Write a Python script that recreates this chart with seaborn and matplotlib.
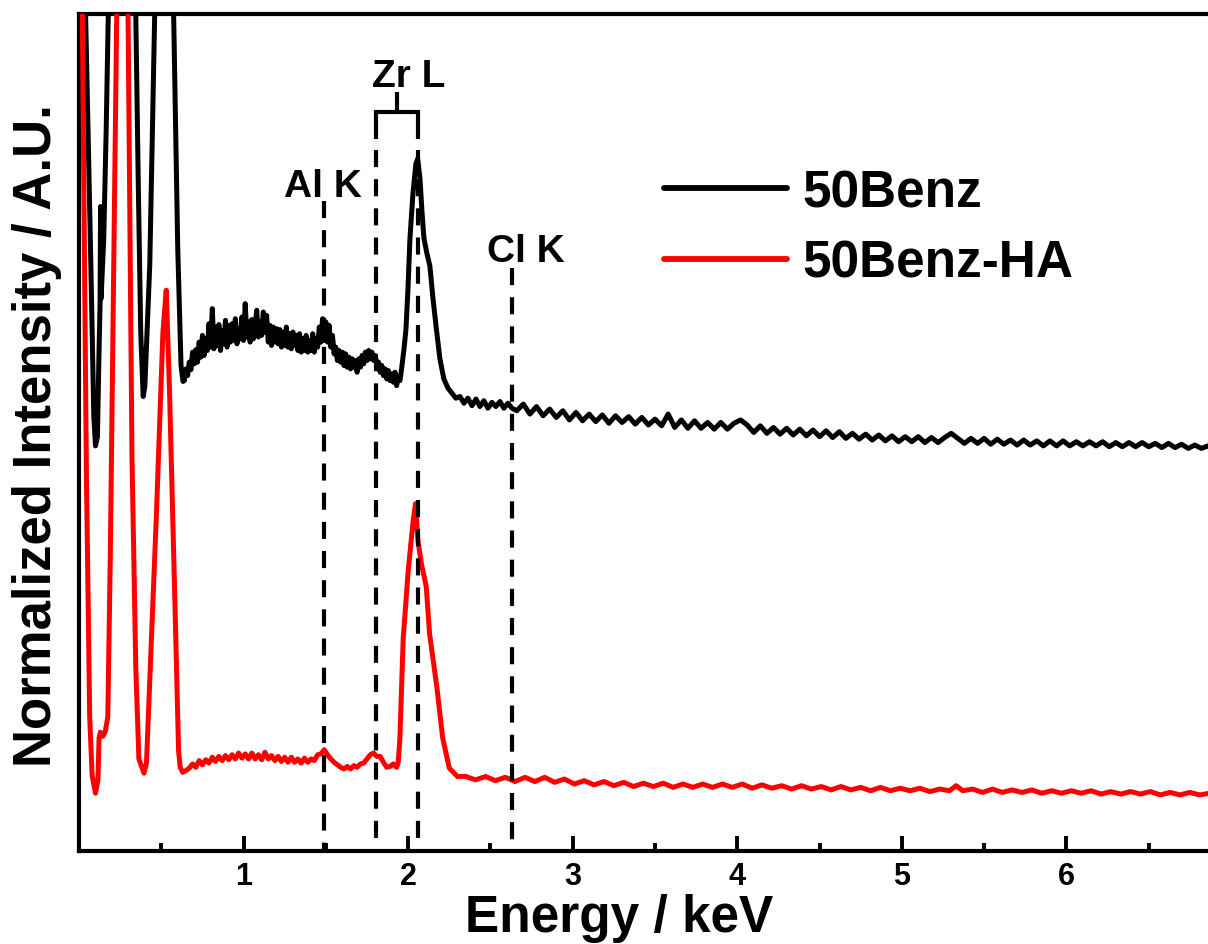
import matplotlib
matplotlib.use("Agg")
import matplotlib.pyplot as plt
import pandas as pd
import seaborn as sns

# ---------------------------------------------------------------------------
# EDS spectra, (energy keV, normalized intensity) pairs
# ---------------------------------------------------------------------------
black_low = [
    (0.000, 200), (0.040, 100), (0.070, 72), (0.090, 52), (0.100, 48.4),
    (0.112, 49.5), (0.122, 60), (0.128, 65.2), (0.131, 77), (0.134, 66),
    (0.150, 73), (0.165, 86), (0.178, 100), (0.200, 140), (0.270, 400),
    (0.330, 130), (0.345, 100), (0.360, 80), (0.375, 62), (0.390, 54.3),
    (0.400, 55.5), (0.430, 70), (0.460, 100), (0.480, 140), (0.525, 250),
    (0.560, 130), (0.575, 100), (0.600, 72), (0.620, 58), (0.632, 56.1),
]
black_mid = [
    (0.64, 56.2), (0.65, 57.6), (0.66, 56.8), (0.67, 58.4), (0.68, 57.5),
    (0.69, 59.6), (0.70, 58.2), (0.71, 59.9), (0.72, 58.4), (0.73, 60.8),
    (0.74, 59.0), (0.75, 61.6), (0.76, 59.2), (0.77, 61.2), (0.78, 59.8),
    (0.79, 63.0), (0.80, 60.2), (0.81, 64.8), (0.82, 60.0), (0.83, 62.6),
    (0.84, 60.4), (0.85, 62.9), (0.86, 59.8), (0.87, 62.2), (0.88, 60.6),
    (0.89, 63.4), (0.90, 60.2), (0.91, 62.8), (0.92, 60.8), (0.93, 63.0),
    (0.94, 61.0), (0.95, 63.6), (0.96, 60.6), (0.97, 62.4), (0.98, 61.2),
    (0.99, 63.8), (1.00, 61.0), (1.01, 65.4), (1.02, 61.4), (1.03, 63.2),
    (1.04, 60.8), (1.05, 63.5), (1.06, 61.2), (1.07, 62.8), (1.08, 64.6),
    (1.09, 61.4), (1.10, 63.2), (1.11, 61.6), (1.12, 64.4), (1.13, 62.0),
    (1.14, 64.0), (1.15, 60.8), (1.16, 62.8), (1.17, 60.4), (1.18, 62.6),
    (1.19, 60.8), (1.20, 62.4), (1.21, 60.6), (1.22, 62.3), (1.23, 60.2),
    (1.24, 62.0), (1.25, 60.4), (1.26, 62.6), (1.27, 60.2), (1.28, 61.8),
    (1.29, 60.0), (1.30, 62.0), (1.31, 60.4), (1.32, 61.6), (1.33, 59.8),
    (1.34, 61.8), (1.35, 59.6), (1.36, 61.2), (1.37, 59.8), (1.38, 61.6),
    (1.39, 59.6), (1.40, 61.0), (1.41, 59.8), (1.42, 61.8), (1.43, 59.6),
    (1.44, 61.2), (1.45, 60.2), (1.46, 62.6), (1.47, 60.8), (1.48, 63.6),
    (1.49, 61.0), (1.50, 63.2), (1.51, 60.8), (1.52, 62.8), (1.53, 60.2),
    (1.54, 61.6), (1.55, 59.4), (1.56, 60.2), (1.57, 58.6), (1.58, 59.8),
    (1.59, 58.4), (1.60, 59.6), (1.61, 58.0), (1.62, 59.4), (1.63, 57.8),
    (1.64, 59.0), (1.65, 57.6), (1.66, 58.8), (1.67, 57.8), (1.68, 58.6),
    (1.69, 57.2), (1.70, 58.8), (1.71, 57.8), (1.72, 59.2), (1.73, 58.2),
    (1.74, 59.6), (1.75, 58.6), (1.76, 59.8), (1.77, 58.8), (1.78, 59.6),
    (1.79, 58.6), (1.80, 59.2), (1.81, 58.0), (1.82, 58.4), (1.83, 57.2),
    (1.84, 58.0), (1.85, 56.8), (1.86, 57.6), (1.87, 56.4), (1.88, 57.4),
    (1.89, 56.2), (1.90, 57.0), (1.91, 56.0), (1.92, 57.2), (1.93, 55.6),
    (1.94, 56.6), (1.95, 56.2), (1.96, 57.6), (1.975, 60.0), (1.987, 62.4),
    (1.999, 67.2), (2.011, 73.2), (2.029, 78.5), (2.047, 82.1), (2.058, 82.7),
    (2.072, 80.3), (2.084, 76.4), (2.096, 73.2), (2.114, 71.4), (2.132, 69.9),
    (2.151, 66.0), (2.169, 62.8), (2.193, 58.8), (2.217, 56.4), (2.242, 55.3),
    (2.266, 54.7), (2.290, 54.1), (2.315, 54.3), (2.339, 53.5), (2.363, 54.1),
    (2.388, 53.2), (2.412, 54.0), (2.436, 53.1), (2.460, 53.8), (2.485, 52.9),
    (2.509, 53.6), (2.533, 53.1), (2.558, 53.7), (2.582, 52.9), (2.606, 53.5),
    (2.631, 52.9),
]
black_tail = [
    (2.66, 52.6), (2.70, 53.4), (2.74, 52.2), (2.78, 53.1), (2.82, 52.0),
    (2.86, 52.8), (2.90, 51.8), (2.94, 52.6), (2.98, 51.5), (3.02, 52.4),
    (3.06, 51.4), (3.10, 52.2), (3.14, 51.3), (3.18, 52.1), (3.22, 51.1),
    (3.26, 52.0), (3.30, 51.2), (3.34, 51.9), (3.38, 51.0), (3.42, 51.8),
    (3.46, 50.9), (3.50, 51.6), (3.54, 50.8), (3.58, 52.2), (3.62, 50.6),
    (3.66, 51.5), (3.70, 50.5), (3.74, 51.4), (3.78, 50.5), (3.82, 51.2),
    (3.86, 50.4), (3.90, 51.2), (3.94, 50.4), (3.98, 51.1), (4.02, 51.5),
    (4.06, 50.9), (4.10, 50.0), (4.14, 50.8), (4.18, 49.9), (4.22, 50.6),
    (4.26, 49.8), (4.30, 50.5), (4.34, 49.7), (4.38, 50.4), (4.42, 49.6),
    (4.46, 50.3), (4.50, 49.5), (4.54, 50.2), (4.58, 49.4), (4.62, 50.1),
    (4.66, 49.3), (4.70, 49.9), (4.74, 49.2), (4.78, 49.8), (4.82, 49.1),
    (4.86, 49.7), (4.90, 49.0), (4.94, 49.6), (4.98, 48.9), (5.02, 49.5),
    (5.06, 48.9), (5.10, 49.5), (5.14, 48.8), (5.18, 49.4), (5.22, 48.8),
    (5.26, 49.4), (5.30, 49.9), (5.34, 49.3), (5.38, 48.7), (5.42, 49.3),
    (5.46, 48.7), (5.50, 49.3), (5.54, 48.6), (5.58, 49.2), (5.62, 48.6),
    (5.66, 49.1), (5.70, 48.5), (5.74, 49.1), (5.78, 48.5), (5.82, 49.0),
    (5.86, 48.4), (5.90, 49.0), (5.94, 48.4), (5.98, 49.0), (6.02, 48.4),
    (6.06, 48.9), (6.10, 48.4), (6.14, 48.9), (6.18, 48.4), (6.22, 48.9),
    (6.26, 48.3), (6.30, 48.8), (6.34, 48.3), (6.38, 48.8), (6.42, 48.3),
    (6.46, 48.8), (6.50, 48.3), (6.54, 48.7), (6.58, 48.2), (6.62, 48.7),
    (6.66, 48.2), (6.70, 48.6), (6.74, 48.1), (6.78, 48.5), (6.82, 48.1),
    (6.86, 48.4), (6.90, 48.1), (6.94, 48.4), (6.98, 48.1),
]

red_low = [
    (0.000, 200), (0.020, 100), (0.045, 45), (0.065, 16), (0.080, 9.0),
    (0.100, 6.9), (0.115, 8.5), (0.122, 13.5), (0.130, 14.2), (0.145, 13.7),
    (0.160, 14.3), (0.175, 16.0), (0.190, 35), (0.210, 68), (0.230, 100),
    (0.265, 300), (0.298, 100), (0.322, 47), (0.345, 22), (0.364, 11),
    (0.395, 9.3), (0.410, 10.5), (0.470, 40), (0.510, 62), (0.530, 67),
    (0.550, 55), (0.585, 28), (0.605, 12),
]
red_mid = [
    (0.615, 10.0), (0.63, 9.4), (0.65, 9.6), (0.67, 9.9), (0.69, 10.4),
    (0.71, 10.0), (0.73, 10.8), (0.75, 10.3), (0.77, 10.9), (0.79, 10.5),
    (0.81, 11.2), (0.83, 10.7), (0.85, 11.3), (0.87, 10.8), (0.89, 11.4),
    (0.91, 10.9), (0.93, 11.5), (0.95, 11.0), (0.97, 11.7), (0.99, 11.1),
    (1.01, 11.6), (1.03, 11.0), (1.05, 11.7), (1.07, 11.0), (1.09, 11.5),
    (1.11, 10.9), (1.13, 11.8), (1.15, 11.0), (1.17, 11.4), (1.19, 10.8),
    (1.21, 11.3), (1.23, 10.7), (1.25, 11.2), (1.27, 10.6), (1.29, 11.2),
    (1.31, 10.6), (1.33, 11.0), (1.35, 10.5), (1.37, 11.1), (1.39, 10.6),
    (1.41, 11.0), (1.43, 10.8), (1.45, 11.5), (1.47, 11.6), (1.49, 12.1),
    (1.51, 11.5), (1.53, 11.0), (1.55, 10.6), (1.57, 10.3), (1.59, 10.0),
    (1.61, 9.8), (1.63, 10.1), (1.65, 9.8), (1.67, 10.2), (1.69, 10.0),
    (1.71, 10.4), (1.73, 10.5), (1.75, 11.0), (1.77, 11.5), (1.79, 11.7),
    (1.81, 11.3), (1.83, 11.3), (1.85, 10.6), (1.87, 10.0), (1.89, 10.1),
    (1.91, 10.4), (1.93, 10.0), (1.94, 10.6), (1.95, 13.5), (1.97, 25.4),
    (2.00, 33.4), (2.03, 39.4), (2.045, 41.5), (2.06, 37.0), (2.08, 34.4),
    (2.11, 31.6), (2.13, 26.0), (2.175, 19.5), (2.21, 13.5), (2.25, 9.9),
    (2.30, 8.9),
]
red_tail = [
    (2.35, 8.9), (2.41, 8.5), (2.47, 8.9), (2.53, 8.4), (2.59, 8.8),
    (2.65, 8.3), (2.71, 8.8), (2.77, 8.3), (2.83, 8.8), (2.89, 8.2),
    (2.95, 8.6), (3.01, 8.0), (3.07, 8.4), (3.13, 7.9), (3.19, 8.3),
    (3.25, 7.8), (3.31, 8.2), (3.37, 7.7), (3.43, 8.1), (3.49, 7.7),
    (3.55, 8.1), (3.61, 7.6), (3.67, 8.0), (3.73, 7.6), (3.79, 8.0),
    (3.85, 7.6), (3.91, 8.0), (3.97, 7.6), (4.03, 8.0), (4.09, 7.5),
    (4.15, 7.9), (4.21, 7.5), (4.27, 7.8), (4.33, 7.4), (4.39, 7.8),
    (4.45, 7.4), (4.51, 7.7), (4.57, 7.3), (4.63, 7.7), (4.69, 7.3),
    (4.75, 7.6), (4.81, 7.2), (4.87, 7.6), (4.93, 7.2), (4.99, 7.5),
    (5.05, 7.2), (5.11, 7.5), (5.17, 7.1), (5.23, 7.4), (5.29, 7.2),
    (5.33, 7.8), (5.37, 7.2), (5.43, 7.4), (5.49, 7.0), (5.55, 7.4),
    (5.61, 7.0), (5.67, 7.3), (5.73, 7.0), (5.79, 7.3), (5.85, 6.9),
    (5.91, 7.2), (5.97, 6.9), (6.03, 7.2), (6.09, 6.9), (6.15, 7.2),
    (6.21, 6.8), (6.27, 7.1), (6.33, 6.8), (6.39, 7.1), (6.45, 6.8),
    (6.51, 7.1), (6.57, 6.7), (6.63, 7.0), (6.69, 6.7), (6.75, 7.0),
    (6.81, 6.7), (6.87, 6.9), (6.93, 6.7), (6.99, 6.9),
]

series_names = ["50Benz", "50Benz-HA"]
series_colors = ["#000000", "#ff0000"]

# characteristic lines (keV)
al_k = 1.488
zr_l = (1.804, 2.058)
cl_k = 2.63

df_black = pd.DataFrame(black_low + black_mid + black_tail, columns=["Energy", "Intensity"])
df_red = pd.DataFrame(red_low + red_mid + red_tail, columns=["Energy", "Intensity"])

sns.set_theme(style="ticks")
plt.rcParams["font.family"] = ["Liberation Sans", "DejaVu Sans"]
plt.rcParams["font.weight"] = "bold"
for key in ["text.color", "axes.labelcolor", "xtick.color", "ytick.color", "axes.edgecolor"]:
    plt.rcParams[key] = "black"

W, H = 1208, 945
fig = plt.figure(figsize=(W / 100, H / 100), dpi=100)
fig.patch.set_facecolor("white")
ax = fig.add_axes([79 / W, 93 / H, 1152 / W, 837 / H])
ax.set_facecolor("white")

sns.lineplot(data=df_black, x="Energy", y="Intensity", color=series_colors[0],
             linewidth=3.6, label=series_names[0], ax=ax, zorder=3)
sns.lineplot(data=df_red, x="Energy", y="Intensity", color=series_colors[1],
             linewidth=3.6, label=series_names[1], ax=ax, zorder=3)

ax.set_xlim(0, 7.0)
ax.set_ylim(0, 100)

# marker lines
dash = (0, (4.1, 2.9))
mk = dict(color="black", lw=3.0, zorder=4)
ax.plot([al_k, al_k], [77.6, 0], ls=dash, **mk)
ax.plot([cl_k, cl_k], [69.6, 0], ls=dash, **mk)
for e in zr_l:
    ax.plot([e, e], [83.7, 0], ls=dash, **mk)
ax.plot([zr_l[0], zr_l[0], zr_l[1], zr_l[1]], [85.1, 88.3, 88.3, 85.1],
        solid_capstyle="butt", solid_joinstyle="miter", **mk)
stem = 1.930
ax.plot([stem, stem], [88.3, 90.7], solid_capstyle="butt", **mk)

ax.text(1.482, 78.3, "Al K", fontsize=28, fontweight="bold", ha="center", va="baseline")
ax.text(2.005, 91.4, "Zr L", fontsize=28, fontweight="bold", ha="center", va="baseline")
ax.text(2.716, 70.5, "Cl K", fontsize=28, fontweight="bold", ha="center", va="baseline")

# axes styling
ax.set_yticks([])
ax.set_xticks([1, 2, 3, 4, 5, 6])
ax.set_xticks([0.5, 1.5, 2.5, 3.5, 4.5, 5.5, 6.5], minor=True)
ax.tick_params(axis="x", which="major", direction="in", length=11, width=2.8,
               labelsize=22, pad=7, top=False, colors="black")
ax.tick_params(axis="x", which="minor", direction="in", length=6, width=2.8, top=False)
for s in ["left", "top", "bottom"]:
    ax.spines[s].set_linewidth(3.0)
    ax.spines[s].set_color("black")
ax.spines["right"].set_visible(False)
ax.set_xlabel("")
ax.set_ylabel("")

fig.text(619 / W, (H - 932) / H, "Energy / keV", fontsize=37, fontweight="bold",
         ha="center", va="baseline")
fig.text(37 / W, 1 - 436 / H, "Normalized Intensity / A.U.", fontsize=38,
         fontweight="bold", rotation=90, ha="center", va="center")

leg = ax.legend(loc="center left", bbox_to_anchor=(638 / W, 1 - 229 / H),
                bbox_transform=fig.transFigure, frameon=False,
                prop={"size": 37, "weight": "bold"}, handlelength=2.4,
                handletextpad=0.3, borderpad=0, labelspacing=0.42)
for line in leg.get_lines():
    line.set_linewidth(4.2)

fig.savefig("out.png", dpi=100, facecolor="white")
